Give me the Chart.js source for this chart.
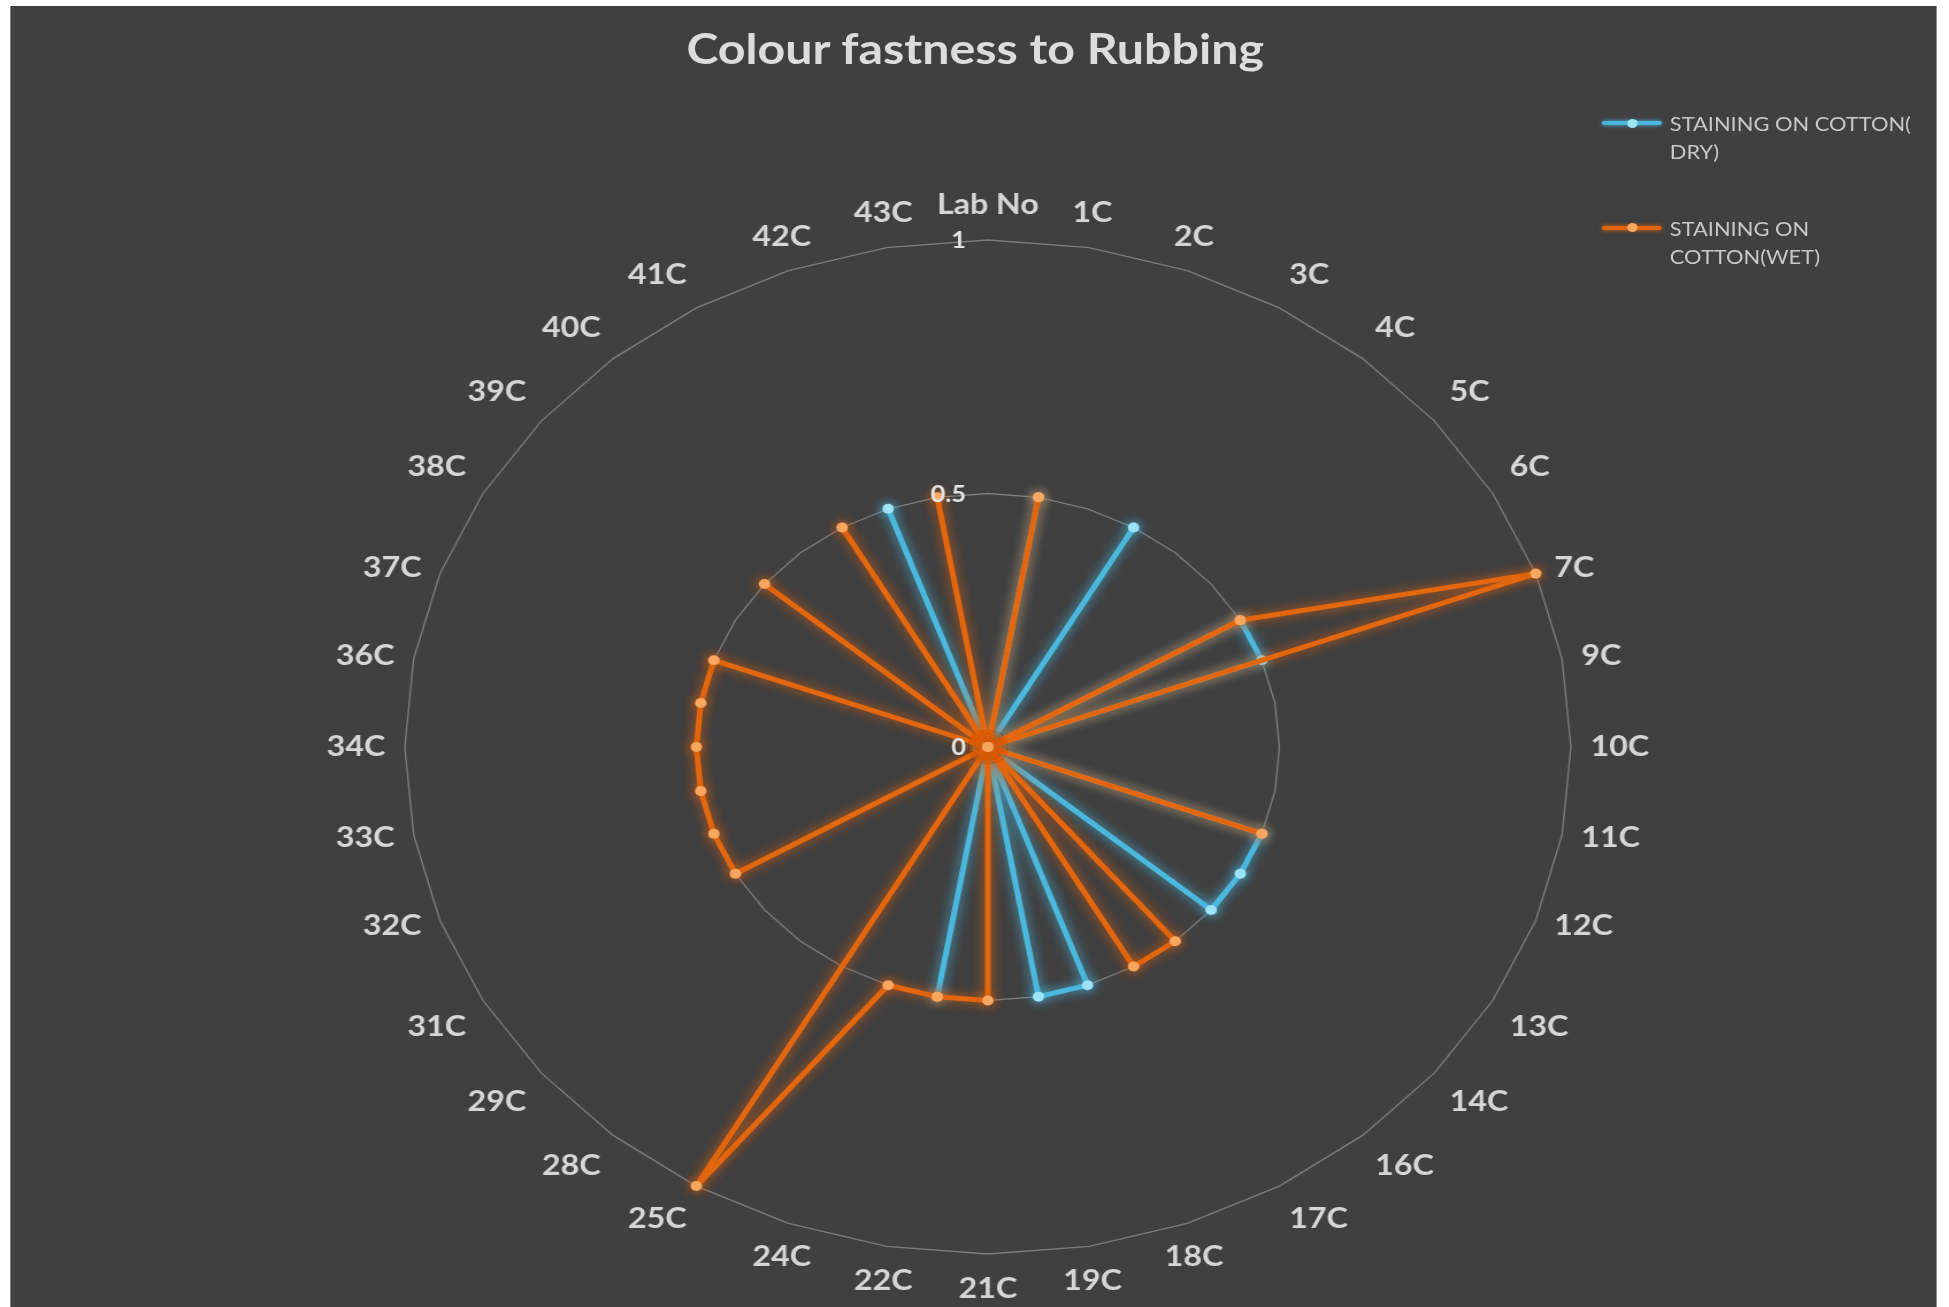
<!DOCTYPE html>
<html>
<head>
<meta charset="utf-8">
<script src="https://cdn.jsdelivr.net/npm/chart.js@4.4.1/dist/chart.umd.min.js"></script>
<style>
  html, body { margin: 0; padding: 0; background: #ffffff; overflow: hidden; width: 1949px; height: 1307px; }
  #stage { position: absolute; left: 0; top: 0; width: 1695px; height: 1307px; transform: scaleX(1.15); transform-origin: 0 0; }
  #panel { position: absolute; left: 9px; top: 6px; width: 1675px; height: 1301px; background: #404040; }
  #c { position: absolute; left: 0; top: 0; }
  #title { position: absolute; left: 0; top: 27px; width: 1696px; text-align: center; font: bold 42px/42px Lato, "Open Sans", sans-serif; color: #dcdcdc; white-space: nowrap; }
  .legtxt { position: absolute; left: 1452px; font: 19px/27.5px Lato, "Open Sans", sans-serif; color: #c8c8c8; white-space: nowrap; }
  .legline { position: absolute; left: 1393px; width: 52px; height: 4px; border-radius: 2px; }
  .legdot { position: absolute; left: 1414.5px; width: 9px; height: 9px; border-radius: 50%; }
</style>
</head>
<body>
<div id="stage">
  <div id="panel"></div>
  <canvas id="c" width="1695" height="1307"></canvas>
  <div id="title">Colour fastness to Rubbing</div>
  <div class="legline" style="top:121.3px;background:#4bb6db;box-shadow:0 0 4px #4bb6db;"></div>
  <div class="legdot" style="top:118.8px;background:#9be3f7;"></div>
  <div class="legtxt" style="top:110px;">STAINING ON COTTON(<br>DRY)</div>
  <div class="legline" style="top:225.7px;background:#e0650f;box-shadow:0 0 4px #e0650f;"></div>
  <div class="legdot" style="top:223.2px;background:#f9a65f;"></div>
  <div class="legtxt" style="top:215px;">STAINING ON<br>COTTON(WET)</div>
</div>
<script>
// ---- data ----
const categories = ['Lab No','1C','2C','3C','4C','5C','6C','7C','9C','10C','11C','12C','13C','14C','16C','17C','18C','19C','21C','22C','24C','25C','28C','29C','31C','32C','33C','34C','36C','37C','38C','39C','40C','41C','42C','43C'];
const dryValues = [0,0.5,0,0.5,0,0,0.5,0.5,0,0, 0,0.5,0.5,0.5,0,0,0.5,0.5,0,0.5, 0,0,0,0,0,0,0,0,0,0, 0,0,0,0,0.5,0];
const wetValues = [0,0.5,0,0,0,0,0.5,1,0,0, 0,0.5,0,0,0.5,0.5,0,0,0.5,0.5, 0.5,1,0,0,0.5,0.5,0.5,0.5,0.5,0.5, 0,0.5,0,0.5,0,0.5];
const tickValues = [0, 0.5, 1];
const seriesNames = ['STAINING ON COTTON( DRY)', 'STAINING ON COTTON(WET)'];

// ---- styling ----
const glowColors = ['rgba(70,178,218,1)', 'rgba(212,92,14,1)'];
const labelFont = 'bold 28px Lato, "Open Sans", sans-serif';
const tickFont = 'bold 22px Lato, "Open Sans", sans-serif';
const textColor = '#d6d6d6';

const glowPlugin = {
  id: 'glow',
  beforeDatasetDraw(chart, args) {
    const ctx = chart.ctx;
    ctx.save();
    ctx.shadowColor = glowColors[args.index];
    ctx.shadowBlur = 11;
  },
  afterDatasetDraw(chart) { chart.ctx.restore(); }
};

const labelPlugin = {
  id: 'excelLabels',
  afterDatasetsDraw(chart) {
    const scale = chart.scales.r;
    const ctx = chart.ctx;
    ctx.save();
    ctx.font = labelFont;
    ctx.fillStyle = textColor;
    ctx.textBaseline = 'middle';
    const lim = Math.sin(25 * Math.PI / 180);
    chart.data.labels.forEach((lab, i) => {
      const ang = scale.getIndexAngle(i);
      const p = scale.getPointPosition(i, scale.drawingArea + 17);
      const s = Math.sin(ang), c = Math.cos(ang);
      ctx.textAlign = Math.abs(s) < lim ? 'center' : (s > 0 ? 'left' : 'right');
      let y = p.y;
      if (Math.abs(c) >= lim) y += c > 0 ? -18 : 18;
      ctx.fillText(lab, p.x, y);
    });
    ctx.font = tickFont;
    ctx.fillStyle = '#e4e4e4';
    ctx.textAlign = 'right';
    tickValues.forEach(v => {
      const d = scale.getDistanceFromCenterForValue(v);
      ctx.fillText(String(v), scale.xCenter - 19, scale.yCenter - d + 1);
    });
    ctx.restore();
  }
};

new Chart(document.getElementById('c'), {
  type: 'radar',
  data: {
    labels: categories,
    datasets: [
      {
        label: seriesNames[0],
        data: dryValues,
        order: 1,
        fill: false,
        borderColor: '#4cb8de',
        borderWidth: 5,
        borderJoinStyle: 'round',
        borderCapStyle: 'round',
        pointRadius: 5,
        pointBorderWidth: 0,
        pointBackgroundColor: '#9be3f7'
      },
      {
        label: seriesNames[1],
        data: wetValues,
        order: 0,
        fill: false,
        borderColor: '#e2670f',
        borderWidth: 5,
        borderJoinStyle: 'round',
        borderCapStyle: 'round',
        pointRadius: 5,
        pointBorderWidth: 0,
        pointBackgroundColor: '#f9a65f'
      }
    ]
  },
  options: {
    responsive: false,
    animation: false,
    layout: { padding: { top: 240, bottom: 53, left: 24, right: 0 } },
    plugins: { legend: { display: false }, title: { display: false }, tooltip: { enabled: false } },
    elements: { line: { tension: 0 } },
    scales: {
      r: {
        min: 0,
        max: 1,
        startAngle: 0,
        ticks: { display: false, stepSize: 0.5 },
        grid: { circular: false, color: 'rgba(200,200,200,0.45)', lineWidth: 1.3 },
        angleLines: { display: false },
        pointLabels: { display: false }
      }
    }
  },
  plugins: [glowPlugin, labelPlugin]
});
</script>
</body>
</html>
